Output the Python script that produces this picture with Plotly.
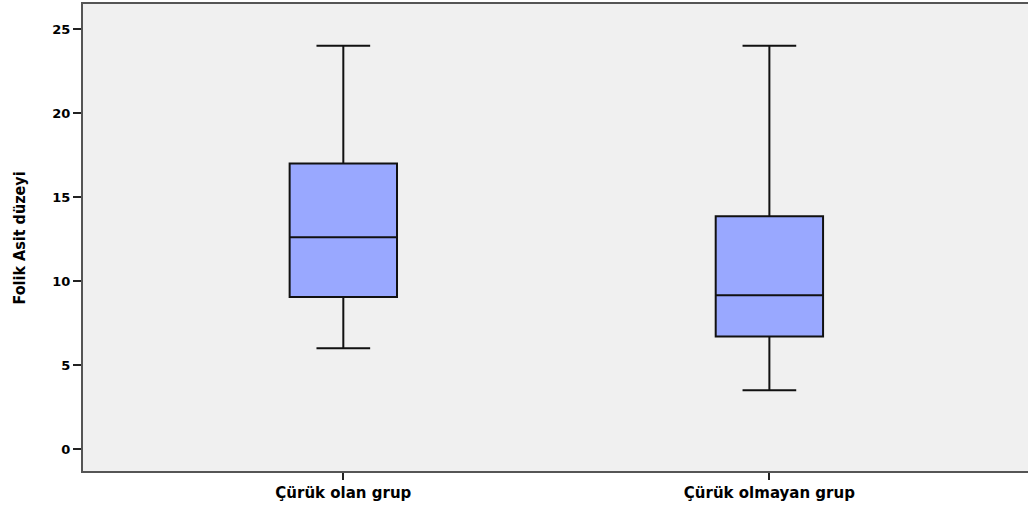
import plotly.graph_objects as go

# Group labels and five-number summaries of folic acid level
groups = ["Çürük olan grup", "Çürük olmayan grup"]
lower_whisker = [6.0, 3.5]
q1_values = [9.05, 6.7]
median_values = [12.6, 9.15]
q3_values = [17.0, 13.85]
upper_whisker = [24.0, 24.0]

y_ticks = [0, 5, 10, 15, 20, 25]

fig = go.Figure()
fig.add_trace(go.Box(
    x=groups,
    q1=q1_values,
    median=median_values,
    q3=q3_values,
    lowerfence=lower_whisker,
    upperfence=upper_whisker,
    width=0.252,
    whiskerwidth=0.5,
    fillcolor="#99a8ff",
    line=dict(color="#111111", width=2),
    boxpoints=False,
    showlegend=False,
    hoverinfo="skip",
))

fig.update_layout(
    width=1028,
    height=506,
    margin=dict(l=83, r=0, t=4, b=35),
    paper_bgcolor="white",
    plot_bgcolor="#f0f0f0",
    xaxis=dict(
        type="category",
        range=[-0.611, 1.607],
        showgrid=False,
        zeroline=False,
        showline=True,
        linecolor="#555555",
        linewidth=2,
        mirror=True,
        ticks="outside",
        ticklen=7,
        tickwidth=1.5,
        tickcolor="#222222",
        ticklabelstandoff=0,
        tickfont=dict(family="DejaVu Sans", size=15, color="black", weight="bold"),
    ),
    yaxis=dict(
        range=[-1.31, 26.49],
        tickvals=y_ticks,
        ticktext=[str(v) for v in y_ticks],
        showgrid=False,
        zeroline=False,
        showline=True,
        linecolor="#555555",
        linewidth=2,
        ticks="outside",
        ticklen=8,
        tickwidth=1.5,
        tickcolor="#222222",
        tickfont=dict(family="DejaVu Sans", size=13, color="black", weight="bold"),
    ),
    annotations=[dict(
        text="Folik Asit düzeyi",
        xref="paper", yref="paper",
        x=-0.0667, y=0.5,
        xanchor="center", yanchor="middle",
        textangle=-90,
        showarrow=False,
        font=dict(family="DejaVu Sans Condensed, Liberation Sans Narrow, Arial Narrow",
                  size=16, color="black", weight="bold"),
    )],
)

fig.write_html("out.html")
